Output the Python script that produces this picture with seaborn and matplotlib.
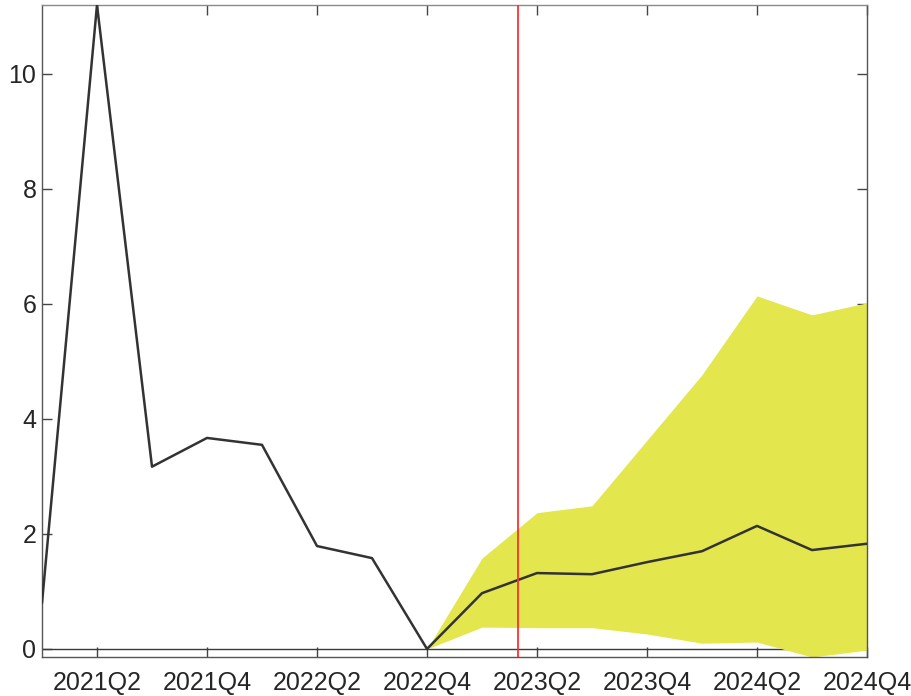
import numpy as np
import pandas as pd
import matplotlib
matplotlib.use("Agg")
import matplotlib.pyplot as plt
import seaborn as sns

quarters = ["2021Q1", "2021Q2", "2021Q3", "2021Q4",
            "2022Q1", "2022Q2", "2022Q3", "2022Q4",
            "2023Q1", "2023Q2", "2023Q3", "2023Q4",
            "2024Q1", "2024Q2", "2024Q3", "2024Q4"]
values = [0.80, 11.20, 3.17, 3.67, 3.55, 1.79, 1.58, 0.00,
          0.97, 1.32, 1.30, 1.51, 1.70, 2.14, 1.72, 1.83]

# forecast band, starting at the last observed quarter
band_quarters = quarters[7:]
band_upper = [0.00, 1.58, 2.37, 2.49, 3.63, 4.77, 6.14, 5.81, 6.02]
band_lower = [0.00, 0.38, 0.37, 0.37, 0.26, 0.10, 0.12, -0.14, -0.02]

forecast_start = 8.65  # position (in quarters) of the forecast marker
tick_labels = quarters[1::2]

sns.set_theme(style="white")
plt.rcParams["font.family"] = ["Liberation Sans", "DejaVu Sans"]

df = pd.DataFrame({"pos": np.arange(len(quarters)), "value": values})
band_pos = np.array([quarters.index(q) for q in band_quarters])

fig = plt.figure(figsize=(9.12, 6.96), dpi=100)
ax = fig.add_axes([42 / 912, 1 - 657 / 696, (867 - 42) / 912, (657 - 5) / 696])

ax.axhline(0, color="#3a3a3a", lw=1.0, zorder=1)
ax.fill_between(band_pos, band_lower, band_upper, color="#e3e64d", lw=0, zorder=2)
sns.lineplot(data=df, x="pos", y="value", ax=ax, color="#333333", lw=1.8, zorder=3)
ax.axvline(forecast_start, color="#ff3030", lw=1.3, zorder=4)

ax.set_xlim(0, len(quarters) - 1)
ax.set_ylim(-0.14, 11.2)
ax.set_xticks([quarters.index(q) for q in tick_labels])
ax.set_xticklabels(tick_labels)
ax.set_yticks([0, 2, 4, 6, 8, 10])
ax.set_xlabel("")
ax.set_ylabel("")

ax.tick_params(axis="both", direction="in", length=7, width=1.0, color="#444444",
               labelsize=18, labelcolor="#262626", top=True, right=True,
               bottom=True, left=True)
ax.tick_params(axis="x", pad=10)
ax.tick_params(axis="y", pad=4)
for side, sp in ax.spines.items():
    sp.set_visible(True)
    sp.set_color("#555555" if side != "top" else "#8a8a8a")
    sp.set_linewidth(1.0)

fig.savefig("out.png", dpi=100)
